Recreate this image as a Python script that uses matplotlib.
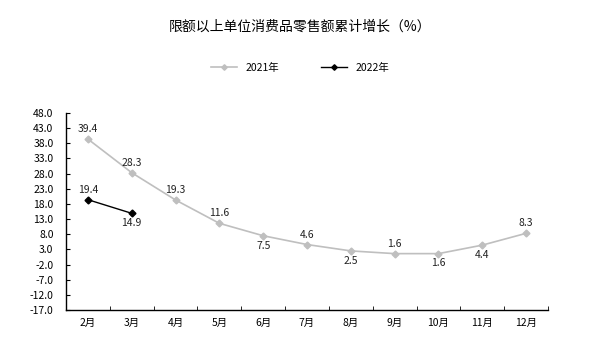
import matplotlib
matplotlib.use("Agg")
import matplotlib.pyplot as plt
import numpy as np

plt.rcParams['font.family'] = ['Noto Sans CJK SC', 'DejaVu Sans']

months = ["2月", "3月", "4月", "5月", "6月", "7月", "8月", "9月", "10月", "11月", "12月"]
y2021 = [39.4, 28.3, 19.3, 11.6, 7.5, 4.6, 2.5, 1.6, 1.6, 4.4, 8.3]
y2022 = [19.4, 14.9]
pos2021 = ["above", "above", "above", "above", "below", "above", "below", "above", "below", "below", "above"]
pos2022 = ["above", "below"]
yticks = [48.0, 43.0, 38.0, 33.0, 28.0, 23.0, 18.0, 13.0, 8.0, 3.0, -2.0, -7.0, -12.0, -17.0]

fig = plt.figure(figsize=(5.9, 3.5), dpi=100)
ax = fig.add_axes([66/590, 1-310/350, (548-66)/590, (310-113)/350])

x = np.arange(len(months))
ax.plot(x, y2021, color="#BFBFBF", marker="D", markersize=3.5, lw=1.2, label="2021年")
ax.plot(x[:len(y2022)], y2022, color="black", marker="D", markersize=3.5, lw=1.0, label="2022年")

def annotate(xs, ys, poss):
    for xi, yi, p in zip(xs, ys, poss):
        off = 3.5 if p == "above" else -3.5
        ax.annotate(f"{yi:.1f}", (xi, yi), xytext=(0, off), textcoords="offset points",
                    ha="center", va="bottom" if p == "above" else "top", fontsize=7.5, color="#222222")

annotate(x, y2021, pos2021)
annotate(x[:len(y2022)], y2022, pos2022)

ax.set_xlim(-0.5, len(months) - 0.5)
ax.set_ylim(-17, 48)
ax.set_yticks(yticks)
ax.set_yticklabels([f"{v:.1f}" for v in yticks], fontsize=7.5)
ax.set_xticks(x)
ax.set_xticklabels(months, fontsize=7.5)
ax.set_xticks(np.arange(-0.5, len(months)), minor=True)
ax.tick_params(axis="x", which="major", length=0, pad=6)
ax.tick_params(axis="x", which="minor", direction="in", length=3)
ax.tick_params(axis="y", direction="in", length=3, pad=9)
for s in ["top", "right"]:
    ax.spines[s].set_visible(False)
for s in ["left", "bottom"]:
    ax.spines[s].set_linewidth(1.0)

fig.text(300/590, 1-27/350, "限额以上单位消费品零售额累计增长（%）", ha="center", va="center", fontsize=10)
fig.legend(loc="center", bbox_to_anchor=(300/590, 1-68/350), ncol=2, frameon=False,
           fontsize=7.5, handlelength=2.5, columnspacing=4, markerscale=0.8)

fig.savefig("out.png", dpi=100)
